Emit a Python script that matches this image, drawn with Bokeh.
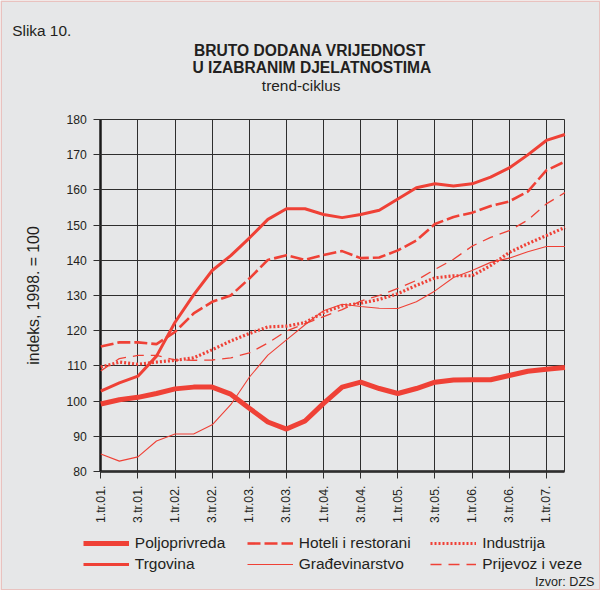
import math
from bokeh.plotting import figure
from bokeh.models import Range1d, FixedTicker, Legend, LegendItem, LinearAxis, BoxAnnotation
from bokeh.core.properties import value
from bokeh.embed import file_html
from bokeh.resources import INLINE

# ---- data (indeks, 1998. = 100), quarters 1.tr.01 .. 2.tr.07 ----
quarters = list(range(26))
tick_positions = list(range(0, 25, 2))
tick_labels = ["1.tr.01.", "3.tr.01.", "1.tr.02.", "3.tr.02.", "1.tr.03.", "3.tr.03.",
               "1.tr.04.", "3.tr.04.", "1.tr.05.", "3.tr.05.", "1.tr.06.", "3.tr.06.", "1.tr.07."]
y_ticks = list(range(80, 181, 10))

poljoprivreda = [99.2, 100.4, 101.1, 102.2, 103.5, 104.0, 104.0, 102.0, 98.0, 94.1, 92.1, 94.4, 99.4,
                 104.0, 105.4, 103.6, 102.2, 103.6, 105.4, 106.0, 106.1, 106.1, 107.3, 108.5, 109.1, 109.6]
trgovina = [102.9, 105.2, 107.1, 112.8, 122.4, 130.2, 137.1, 141.3, 146.3, 151.6, 154.6, 154.6, 153.0,
            152.1, 153.0, 154.2, 157.4, 160.6, 161.7, 161.1, 161.7, 163.6, 166.2, 169.9, 174.0, 175.7]
hoteli = [115.5, 116.7, 116.7, 116.2, 119.7, 124.9, 128.2, 130.0, 134.8, 140.1, 141.4, 140.1, 141.5,
          142.6, 140.6, 140.8, 142.8, 145.6, 150.3, 152.3, 153.5, 155.4, 156.7, 159.5, 165.5, 168.0]
industrija = [109.7, 111.1, 110.5, 111.1, 111.6, 112.3, 114.6, 117.1, 119.2, 121.1, 121.3, 122.3, 125.2,
              127.1, 127.8, 128.9, 130.5, 132.9, 135.0, 135.6, 135.6, 138.5, 142.2, 144.7, 147.0, 149.3]
gradjevinarstvo = [85.0, 83.0, 84.2, 88.7, 90.7, 90.7, 93.3, 99.0, 106.8, 113.1, 117.4, 121.7, 125.7,
                   127.5, 126.9, 126.4, 126.3, 128.2, 131.3, 135.1, 137.1, 139.4, 140.6, 142.4, 143.9, 143.9]
prijevoz = [108.6, 112.1, 113.0, 113.0, 111.7, 111.6, 111.7, 112.3, 113.7, 116.5, 119.9, 122.0, 124.0,
            126.0, 128.4, 130.0, 132.0, 134.3, 137.4, 140.3, 144.0, 146.5, 148.4, 151.4, 156.0, 159.2]

# ---- style / layout (pixels on a 600x590 canvas) ----
BG = "#e6e7e8"
RED = "#ef4136"
TXT = "#231f20"
GRID = "#2e2e2e"
FONT = "Liberation Sans"
W, H = 600, 590
X0, X1 = 0, 25          # data extent of the plotting box
Y0, Y1 = 80, 180
BOX_L, BOX_R, BOX_T, BOX_B = 100.3, 564.4, 118.8, 471.2

kx = (BOX_R - BOX_L) / (X1 - X0)
ky = (BOX_B - BOX_T) / (Y1 - Y0)
x_range = Range1d(X0 - BOX_L / kx, X1 + (W - BOX_R) / kx)
y_range = Range1d(Y0 - (H - BOX_B) / ky, Y1 + BOX_T / ky)


def px(xp):
    return x_range.start + xp / kx


def py(yp):
    return y_range.end - yp / ky


p = figure(width=W, height=H, output_backend="svg", toolbar_location=None,
           x_range=x_range, y_range=y_range, x_axis_location=None, y_axis_location=None,
           min_border_left=0, min_border_right=0, min_border_top=0, min_border_bottom=0,
           background_fill_color=BG, border_fill_color=BG, outline_line_color=None)
p.grid.visible = False

# salmon frame round the whole picture
p.add_layout(BoxAnnotation(left=0.75, right=W - 0.75, bottom=0.75, top=H - 0.75,
                           left_units="screen", right_units="screen",
                           bottom_units="screen", top_units="screen",
                           fill_alpha=0, line_color="#f26d5f", line_width=1.5))


def style_axis(ax):
    ax.axis_line_color = "#1a1a1a"
    ax.axis_line_width = 2.5
    ax.major_tick_line_color = GRID
    ax.major_tick_line_width = 1
    ax.major_tick_out = 7
    ax.minor_tick_line_color = None
    ax.major_label_text_font = FONT
    ax.major_label_text_font_size = "12.2px"
    ax.major_label_text_color = TXT
    ax.major_label_standoff = 7
    ax.level = "underlay"


# y axis; its long inward ticks form the horizontal grid
yax = LinearAxis(ticker=FixedTicker(ticks=y_ticks), fixed_location=X0, bounds=(Y0, Y1))
style_axis(yax)
yax.major_tick_in = int(round(BOX_R - BOX_L))
yax.axis_label = "indeks, 1998. = 100"
yax.axis_label_text_font = FONT
yax.axis_label_text_font_size = "15.8px"
yax.axis_label_text_font_style = "normal"
yax.axis_label_text_color = TXT
yax.axis_label_standoff = 21
p.add_layout(yax, "left")

# x axis; its long inward ticks form the vertical grid
xax = LinearAxis(ticker=FixedTicker(ticks=tick_positions), fixed_location=Y0, bounds=(X0, X1))
style_axis(xax)
xax.major_tick_in = int(round(BOX_B - BOX_T))
xax.major_label_overrides = {t: l for t, l in zip(tick_positions, tick_labels)}
xax.major_label_orientation = math.pi / 2
p.add_layout(xax, "below")

# right edge of the plotting box
rax = LinearAxis(ticker=FixedTicker(ticks=[]), fixed_location=X1, bounds=(Y0, Y1),
                 axis_line_color=GRID, axis_line_width=1, major_label_text_font_size="0px",
                 major_tick_line_color=None, minor_tick_line_color=None, level="underlay")
p.add_layout(rax, "right")

STYLES = {
    "Poljoprivreda": dict(line_width=5),
    "Trgovina": dict(line_width=3),
    "Hoteli i restorani": dict(line_width=2.6, line_dash="13 4"),
    "Građevinarstvo": dict(line_width=1.1),
    "Industrija": dict(line_width=3.2, line_dash="2 2"),
    "Prijevoz i veze": dict(line_width=1.3, line_dash="11 7"),
}
data = {
    "Poljoprivreda": poljoprivreda, "Trgovina": trgovina, "Hoteli i restorani": hoteli,
    "Građevinarstvo": gradjevinarstvo, "Industrija": industrija, "Prijevoz i veze": prijevoz,
}
rend = {}
for name in ["Građevinarstvo", "Prijevoz i veze", "Industrija", "Hoteli i restorani", "Trgovina", "Poljoprivreda"]:
    rend[name] = p.line(quarters, data[name], line_color=RED, **STYLES[name])


# ---- legend: three columns of two ----
def make_legend(names, x):
    lg = Legend(items=[LegendItem(label=n, renderers=[rend[n]]) for n in names],
                location=(x, H - 573.6), orientation="vertical",
                border_line_color=None, background_fill_alpha=0,
                padding=0, margin=0, spacing=1,
                glyph_width=46, glyph_height=20, label_height=20, label_standoff=6,
                label_text_font=FONT, label_text_font_size="15.5px", label_text_color=TXT)
    p.add_layout(lg, "center")


make_legend(["Poljoprivreda", "Trgovina"], 82.8)
make_legend(["Hoteli i restorani", "Građevinarstvo"], 246.7)
make_legend(["Industrija", "Prijevoz i veze"], 430.2)

# ---- texts ----
def txt(t, xp, yp, size, align="left", bold=False):
    p.text(x=[px(xp)], y=[py(yp)], text=[t], text_font=value(FONT), text_font_size=size,
           text_font_style="bold" if bold else "normal", text_color=TXT,
           text_align=align, text_baseline="alphabetic")


txt("Slika 10.", 11.7, 30, "15.4px")
txt("BRUTO DODANA VRIJEDNOST", 309.5, 50, "15.6px", align="center", bold=True)
txt("U IZABRANIM DJELATNOSTIMA", 311.4, 67, "15.6px", align="center", bold=True)
txt("trend-ciklus", 300.7, 85, "15.4px", align="center")
txt("Izvor: DZS", 594, 581, "12.6px", align="right")

open("out.html", "w").write(file_html(p, INLINE))
